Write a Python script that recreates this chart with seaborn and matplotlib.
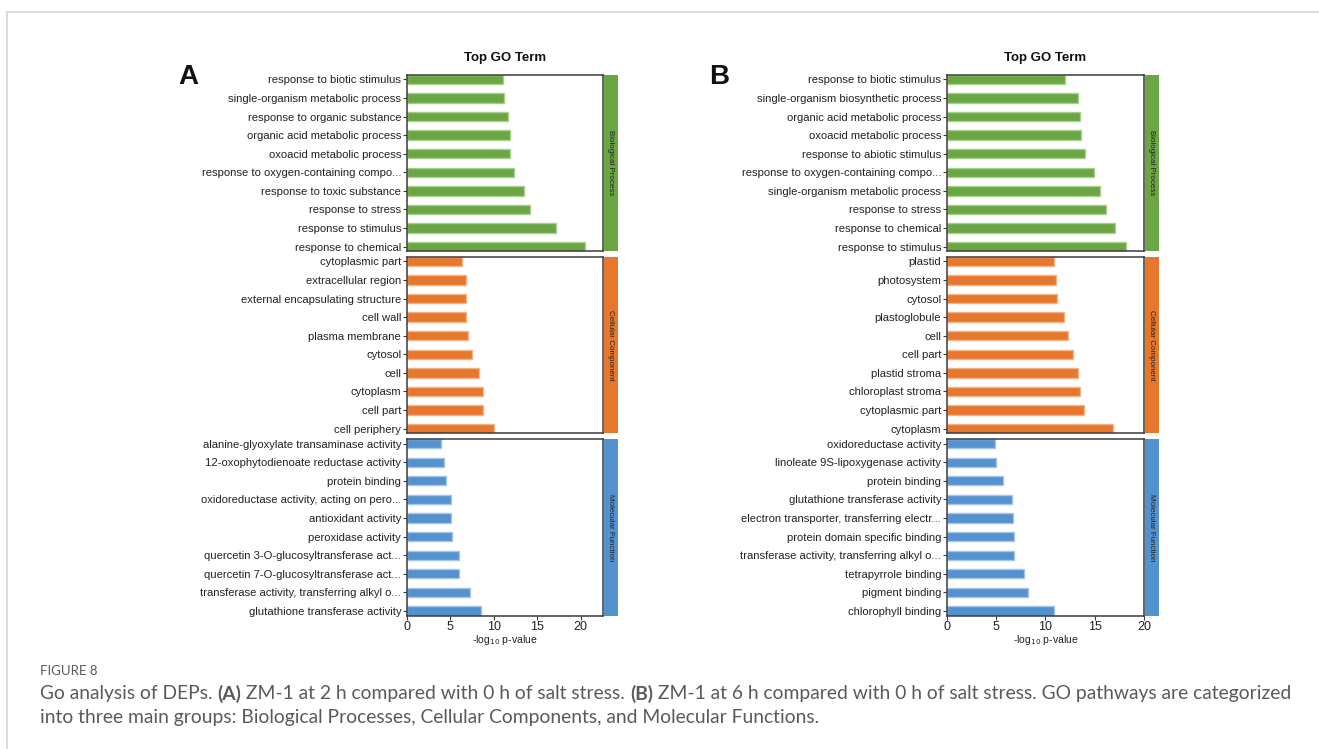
import matplotlib
matplotlib.use("Agg")
import matplotlib.pyplot as plt
from matplotlib.lines import Line2D
import seaborn as sns
import pandas as pd

# ---- GO enrichment data: panel A (2 h vs 0 h) ----
a_bp_terms = ["response to biotic stimulus", "single-organism metabolic process",
              "response to organic substance", "organic acid metabolic process",
              "oxoacid metabolic process", "response to oxygen-containing compo...",
              "response to toxic substance", "response to stress",
              "response to stimulus", "response to chemical"]
a_bp_vals = [11.05, 11.2, 11.7, 11.85, 11.9, 12.3, 13.5, 14.2, 17.15, 20.5]

a_cc_terms = ["cytoplasmic part", "extracellular region", "external encapsulating structure",
              "cell wall", "plasma membrane", "cytosol", "cell", "cytoplasm",
              "cell part", "cell periphery"]
a_cc_vals = [6.4, 6.8, 6.8, 6.85, 7.1, 7.55, 8.35, 8.75, 8.75, 10.05]

a_mf_terms = ["alanine-glyoxylate transaminase activity", "12-oxophytodienoate reductase activity",
              "protein binding", "oxidoreductase activity, acting on pero...",
              "antioxidant activity", "peroxidase activity",
              "quercetin 3-O-glucosyltransferase act...", "quercetin 7-O-glucosyltransferase act...",
              "transferase activity, transferring alkyl o...", "glutathione transferase activity"]
a_mf_vals = [3.9, 4.3, 4.5, 5.05, 5.15, 5.2, 6.0, 6.05, 7.25, 8.55]

# ---- GO enrichment data: panel B (6 h vs 0 h) ----
b_bp_terms = ["response to biotic stimulus", "single-organism biosynthetic process",
              "organic acid metabolic process", "oxoacid metabolic process",
              "response to abiotic stimulus", "response to oxygen-containing compo...",
              "single-organism metabolic process", "response to stress",
              "response to chemical", "response to stimulus"]
b_bp_vals = [12.0, 13.3, 13.55, 13.6, 14.0, 14.9, 15.5, 16.1, 17.1, 18.2]

b_cc_terms = ["plastid", "photosystem", "cytosol", "plastoglobule", "cell", "cell part",
              "plastid stroma", "chloroplast stroma", "cytoplasmic part", "cytoplasm"]
b_cc_vals = [10.9, 11.05, 11.2, 11.85, 12.25, 12.75, 13.3, 13.55, 13.95, 16.85]

b_mf_terms = ["oxidoreductase activity", "linoleate 9S-lipoxygenase activity",
              "protein binding", "glutathione transferase activity",
              "electron transporter, transferring electr...", "protein domain specific binding",
              "transferase activity, transferring alkyl o...", "tetrapyrrole binding",
              "pigment binding", "chlorophyll binding"]
b_mf_vals = [4.9, 5.0, 5.7, 6.65, 6.7, 6.85, 6.85, 7.85, 8.2, 10.85]

categories = ["Biological Process", "Cellular Component", "Molecular Function"]
cat_colors = ["#6BA644", "#E8772E", "#5392CF"]
edge_colors = ["#A9CF8F", "#F3B487", "#A3C5E8"]

panel_letters = ["A", "B"]
title_text = "Top GO Term"

caption_head = "FIGURE 8"
caption_parts = [
    ("Go analysis of DEPs. ", "normal"),
    ("(A)", "bold"),
    (" ZM-1 at 2 h compared with 0 h of salt stress. ", "normal"),
    ("(B)", "bold"),
    (" ZM-1 at 6 h compared with 0 h of salt stress. GO pathways are categorized", "normal"),
]
caption_line2 = "into three main groups: Biological Processes, Cellular Components, and Molecular Functions."

sns.set_theme(style="ticks")
plt.rcParams["font.family"] = ["Liberation Sans", "DejaVu Sans"]

W, H = 1319, 749
fig = plt.figure(figsize=(W / 100, H / 100), dpi=100)
fig.patch.set_facecolor("white")


def px_rect(l, t, r, b):
    return [l / W, 1 - b / H, (r - l) / W, (b - t) / H]


row_tops = [74.7, 256.7, 439.0]
row_h = 176.6

panels = [
    dict(left=406.7, right=602.7, strip=(603.7, 617.7), letter_x=178,
         data=[(a_bp_terms, a_bp_vals), (a_cc_terms, a_cc_vals), (a_mf_terms, a_mf_vals)]),
    dict(left=946.7, right=1144.3, strip=(1145.0, 1159.0), letter_x=709,
         data=[(b_bp_terms, b_bp_vals), (b_cc_terms, b_cc_vals), (b_mf_terms, b_mf_vals)]),
]

for p_i, panel in enumerate(panels):
    xmax = 1.1 * max(max(v) for _, v in panel["data"])
    for r, (terms, vals) in enumerate(panel["data"]):
        top = row_tops[r]
        ax = fig.add_axes(px_rect(panel["left"], top, panel["right"], top + row_h))
        df = pd.DataFrame({"term": terms, "value": vals})
        sns.barplot(data=df, x="value", y="term", orient="h", color=cat_colors[r],
                    saturation=1, width=0.5, ax=ax, edgecolor=edge_colors[r], linewidth=1.0)
        ax.set_xlim(0, xmax)
        ax.set_ylim(len(terms) - 0.75, -0.25)
        ax.set_ylabel("")
        ax.set_xlabel("")
        for s in ax.spines.values():
            s.set_visible(True)
            s.set_color("#3a3a3a")
            s.set_linewidth(1.1)
        ax.tick_params(axis="y", length=3, width=0.8, color="#3a3a3a", labelsize=8.1,
                       labelcolor="#222222", pad=1)
        if r < 2:
            ax.tick_params(axis="x", bottom=False, labelbottom=False)
        else:
            ax.set_xticks([0, 5, 10, 15, 20])
            ax.tick_params(axis="x", length=3, width=0.8, color="#3a3a3a", labelsize=9,
                           labelcolor="#222222", pad=1)
            ax.set_xlabel("-log$_{10}$ p-value", fontsize=7.5, color="#222222", labelpad=0)
        if r == 0:
            ax.set_title(title_text, fontsize=9.5, fontweight="bold", color="#111111", pad=10)

        # category strip on the right
        sx0, sx1 = panel["strip"]
        sax = fig.add_axes(px_rect(sx0, top, sx1, top + row_h))
        sax.set_facecolor(cat_colors[r])
        sax.set_xticks([])
        sax.set_yticks([])
        for s in sax.spines.values():
            s.set_visible(False)
        sax.text(0.5, 0.5, categories[r], rotation=-90, ha="center", va="center",
                 fontsize=5.8, color="#222222", transform=sax.transAxes)

    fig.text(panel["letter_x"] / W, 1 - 77 / H, panel_letters[p_i], fontsize=20,
             fontweight="bold", color="#111111", ha="left", va="center")

# page frame lines
fig.add_artist(Line2D([7 / W, 1], [1 - 12 / H, 1 - 12 / H], transform=fig.transFigure,
                      color="#d4d4d4", lw=1.2))
fig.add_artist(Line2D([7 / W, 7 / W], [1 - 12 / H, 0], transform=fig.transFigure,
                      color="#d4d4d4", lw=1.2))

# caption
cap_color = "#5a5a5a"
cap_font = ["Lato", "DejaVu Sans"]
cap_size = 13.9
fig.text(40 / W, 1 - 671 / H, caption_head, fontsize=9.5, color=cap_color, family=cap_font,
         ha="left", va="center")

bg = fig.add_axes([0, 0, 1, 1], zorder=-1)
bg.axis("off")
bg.set_xlim(0, 1)
bg.set_ylim(0, 1)
prev = None
for txt, weight in caption_parts:
    if prev is None:
        prev = bg.text(40 / W, 1 - 694 / H, txt, fontsize=cap_size, color=cap_color,
                       family=cap_font, fontweight=weight, ha="left", va="center")
    else:
        prev = bg.annotate(txt, xy=(1, 0.5), xycoords=prev, fontsize=cap_size, color=cap_color,
                           family=cap_font, fontweight=weight, ha="left", va="center")
bg.text(40 / W, 1 - 718 / H, caption_line2, fontsize=cap_size, color=cap_color,
        family=cap_font, ha="left", va="center")

fig.savefig("out.png", dpi=100, facecolor="white")
